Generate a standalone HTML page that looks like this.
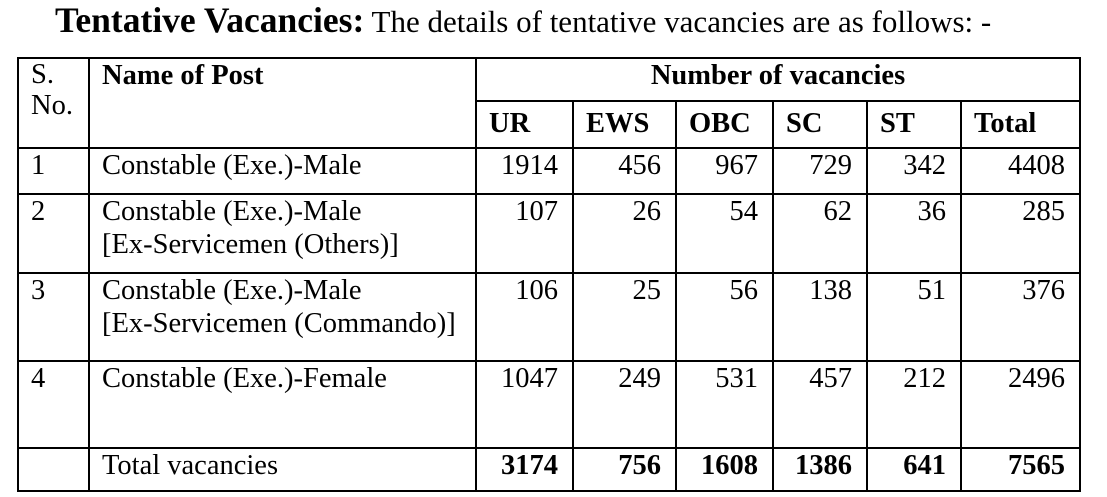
<!DOCTYPE html>
<html><head><meta charset="utf-8">
<style>
html,body{margin:0;padding:0;background:#fff;}
body{width:1107px;height:497px;position:relative;overflow:hidden;font-family:"Liberation Serif",serif;color:#000;}
#title{position:absolute;left:55px;top:0px;font-size:31px;white-space:nowrap;line-height:40px;}
#title b{font-size:35.5px;}
table{position:absolute;left:17px;top:57px;border-collapse:collapse;table-layout:fixed;font-size:28.5px;}
td{border:2px solid #000;padding:0 14px 0 12px;vertical-align:top;line-height:33px;white-space:nowrap;}
td.n{text-align:right;}
th{border:2px solid #000;font-weight:bold;font-size:28.5px;padding:0 12px 0 12px;text-align:left;vertical-align:top;line-height:33px;white-space:nowrap;}
</style></head>
<body>
<div id="title"><b>Tentative Vacancies:</b> The details of tentative vacancies are as follows: -</div>
<table>
<colgroup><col style="width:71px"><col style="width:387px"><col style="width:97px"><col style="width:103px"><col style="width:97px"><col style="width:94px"><col style="width:94px"><col style="width:119px"></colgroup>
<tr style="height:43px">
<th rowspan="2" style="font-weight:normal;line-height:31px">S.<br>No.</th>
<th rowspan="2">Name of Post</th>
<th colspan="6" style="text-align:center">Number of vacancies</th></tr>
<tr style="height:47px">
<th style="padding-top:5px">UR</th>
<th style="padding-top:5px">EWS</th>
<th style="padding-top:5px">OBC</th>
<th style="padding-top:5px">SC</th>
<th style="padding-top:5px">ST</th>
<th style="padding-top:5px">Total</th></tr>
<tr style="height:46px"><td>1</td><td>Constable (Exe.)-Male</td><td class="n">1914</td><td class="n">456</td><td class="n">967</td><td class="n">729</td><td class="n">342</td><td class="n">4408</td></tr>
<tr style="height:79px"><td>2</td><td>Constable (Exe.)-Male<br>[Ex-Servicemen (Others)]</td><td class="n">107</td><td class="n">26</td><td class="n">54</td><td class="n">62</td><td class="n">36</td><td class="n">285</td></tr>
<tr style="height:88px"><td>3</td><td>Constable (Exe.)-Male<br>[Ex-Servicemen (Commando)]</td><td class="n">106</td><td class="n">25</td><td class="n">56</td><td class="n">138</td><td class="n">51</td><td class="n">376</td></tr>
<tr style="height:87px"><td>4</td><td>Constable (Exe.)-Female</td><td class="n">1047</td><td class="n">249</td><td class="n">531</td><td class="n">457</td><td class="n">212</td><td class="n">2496</td></tr>
<tr style="height:43px;font-weight:bold"><td></td><td style="font-weight:normal">Total vacancies</td><td class="n">3174</td><td class="n">756</td><td class="n">1608</td><td class="n">1386</td><td class="n">641</td><td class="n">7565</td></tr>
</table>
</body></html>
